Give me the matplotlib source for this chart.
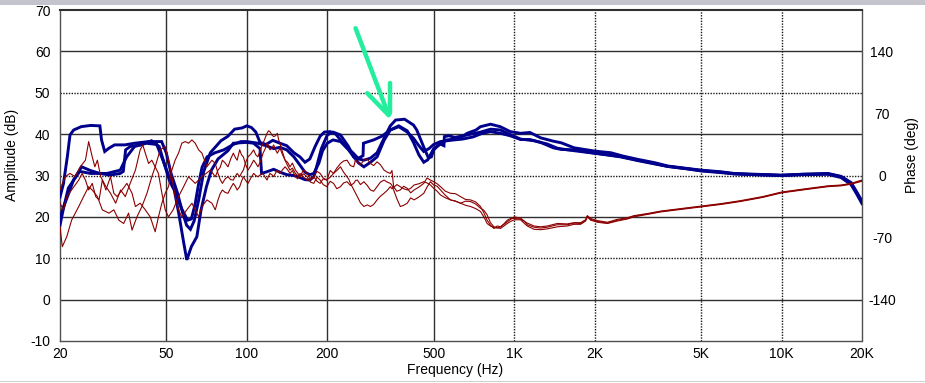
import matplotlib
matplotlib.use("Agg")
import matplotlib.pyplot as plt
from matplotlib.patches import Rectangle

plt.rcParams['font.family'] = ['Liberation Sans', 'DejaVu Sans']
plt.rcParams['font.size'] = 10
plt.rcParams['axes.unicode_minus'] = False

# ---- data ----
freq_ticks = [20, 50, 100, 200, 500, 1000, 2000, 5000, 10000, 20000]
freq_labels = ['20', '50', '100', '200', '500', '1K', '2K', '5K', '10K', '20K']
amp_ticks = [-10, 0, 10, 20, 30, 40, 50, 60, 70]
phase_ticks = [-140, -70, 0, 70, 140]

blue1_f = [20, 20.6, 21.3, 21.8, 22.5, 24, 26, 28.2, 28.6, 29.4, 30.5, 32, 35, 38, 43, 48,
           50, 52, 55, 57.5, 59.5, 61.5, 63.5, 66, 69, 73, 80, 85, 90, 96, 100, 104, 108,
           112, 118, 125, 133, 141, 150, 158, 165, 172, 180, 188, 195, 205, 215, 224, 235,
           250, 262, 274, 290, 307, 326, 344, 360, 389, 420, 432, 458, 478, 490, 500, 530,
           561, 600, 640, 667, 720, 748, 816, 887, 967, 1056, 1145, 1256, 1400, 1500, 1674,
           2000, 2300, 2550, 2900, 3350, 3750, 4450, 5000, 5930, 6640, 8000, 10000, 12000,
           14900, 16700, 18200, 19000, 20000]
blue1_db = [24.8, 28, 34.5, 39.8, 41, 41.8, 42.1, 42, 38.6, 35.8, 36.6, 37.4, 37.4, 37.8, 38.2, 38.2,
            35.4, 30.6, 25.8, 21, 18, 17, 19, 24, 31, 35.5, 38.4, 39.5, 41.2, 41.5, 42, 41.6, 40.5,
            38, 37.5, 38.5, 37.8, 37.2, 35.5, 34.5, 33.2, 34, 37, 39.5, 40.5, 40.6, 40, 38.6, 37,
            35.4, 34, 33.7, 34.2, 35.5, 39, 42, 43.4, 43.6, 42.2, 41, 37, 34.2, 34.5, 36.2, 37.8,
            38.6, 38.8, 39.4, 40.2, 41, 41.8, 42.4, 41.8, 40.6, 40.2, 40.4, 39.1, 38.3, 37.9, 36.7,
            35.9, 35.5, 34.7, 33.9, 33.1, 32.3, 31.7, 31.3, 30.9, 30.5, 30.3, 30.1, 30.3,
            30.4, 29.7, 28.1, 26.1, 23.5]

blue2_f = [20, 20.5, 21.5, 22.5, 24.1, 26, 28.2, 30.8, 33.6, 34.5, 35.2, 36.6, 40, 44, 47, 49.5,
           51.5, 53.5, 55.6, 58.1, 59.6, 62, 65, 67.4, 70.6, 73.7, 78, 85, 89, 100, 106, 112,
           113.5, 120, 126, 133, 141, 150, 158, 165, 172, 178, 183, 190, 200, 210, 224, 240,
           251, 262, 274, 290, 307, 326, 344, 370, 398, 420, 440, 459, 475, 500, 530, 546,
           548, 570, 600, 667, 750, 816, 887, 967, 1056, 1186, 1330, 1450, 1580, 1820, 2100,
           2500, 2900, 3350, 3750, 4450, 5000, 5930, 6640, 8000, 10000, 12000, 14900, 16700,
           18200, 19000, 20000]
blue2_db = [19.5, 22, 25.5, 29, 32.1, 31.2, 30.5, 30.1, 30.5, 31, 36.2, 37, 37.4, 38.4, 37, 32.1,
            28.5, 26.5, 20.9, 13.6, 9.6, 12.8, 15.2, 21.7, 27.3, 31.3, 34, 36, 37.8, 38, 37.8, 36.5,
            30.5, 31, 31.5, 30.8, 30.2, 30, 29.5, 29, 28.9, 29.7, 32.5, 36.5, 39.8, 40.5, 39.8, 37,
            34.5, 33, 32.1, 33.2, 34.5, 38.5, 41, 42, 40.8, 38, 35, 33.2, 33.8, 36.5, 37.6, 37.2,
            39.4, 39.6, 39.2, 39.8, 40.5, 41.2, 41, 39.9, 38.8, 38.4, 37.6, 36.6, 36.2, 35.7, 35.2,
            34.5, 33.6, 32.8, 32.2, 31.6, 31.1, 30.7, 30.4, 30.2, 30, 30.2, 30.3, 29.5,
            27.8, 25.8, 23.2]

blue3_f = [20, 20.6, 21.5, 23.7, 26, 30, 33.6, 35.5, 38, 42, 46, 48, 51, 54, 57, 60, 62, 64, 66,
           68, 71, 76, 82, 89, 95, 100, 110, 118, 126, 133, 141, 150, 158, 165, 172, 178, 186,
           192, 200, 210, 224, 240, 251, 262, 272, 273, 285, 298, 320, 344, 370, 398, 420, 440,
           459, 480, 500, 530, 561, 595, 640, 700, 760, 816, 887, 967, 1056, 1145, 1256, 1400,
           1500, 1674, 2000, 2500, 2900, 3350, 3750, 4450, 5000, 5930, 6640, 8000, 10000,
           12000, 14900, 16700, 18200, 19000, 20000]
blue3_db = [18, 22, 27, 31, 30.5, 30.5, 31.3, 34.5, 37, 37.8, 37.5, 34.5, 30, 26, 22, 19.2, 19.5, 23, 28,
            32, 34.5, 35.5, 36.2, 37.5, 38.2, 38.2, 37.8, 37.2, 36.5, 36.8, 36.2, 34.5, 32.5, 30.8, 30.2, 30.5, 33,
            36, 37.8, 38.6, 38.2, 36.2, 34.5, 34.2, 34.8, 37.8, 38.2, 38.6, 39.5, 41, 41.8, 40.5, 39, 37.2,
            35.8, 36.5, 37.5, 38.2, 38.4, 38.6, 38.8, 39.3, 40.2, 40.6, 40.2, 39.6, 38.7, 38.7, 38, 36.7,
            36.3, 36.2, 35.4, 34.6, 33.7, 32.9, 32.2, 31.6, 31.2, 30.8, 30.4, 30.2, 30,
            30.3, 30.5, 29.8, 28.3, 26.3, 23.8]

red1_f = [20, 20.9, 21.8, 22.8, 23.8, 24.9, 25.6, 26.4, 27, 27.6, 28.4, 29.7, 30.9, 32.3, 33.7,
          35.1, 36.6, 38.3, 39.9, 40.8, 41.7, 42.9, 44.1, 45.4, 46.7, 48.1, 49.5, 50.9, 53, 55.5,
          58, 60.5, 64.1, 67.9, 73, 76.2, 78, 81, 85, 89, 92, 94, 97, 101, 106, 110, 115, 119,
          122, 126, 130, 133, 139, 145, 152, 158, 168, 178, 188, 199, 211, 224, 237, 251, 259,
          274, 290, 307, 326, 344, 354, 375, 398, 422, 459, 486, 500, 530, 578, 630, 687, 748,
          792, 840, 889, 942, 1000, 1056, 1094, 1119, 1186, 1256, 1330, 1450, 1580, 1674, 1772,
          1850, 1878, 1932, 2048, 2232, 2432, 2652, 2808, 3148, 3534, 3965, 4446, 4990, 5930,
          7000, 8500, 10000, 12000, 14900, 16700, 18200, 20000]
red1_db = [26.5, 29.7, 30.5, 29.7, 32.1, 33.7, 38.2, 34.5, 32.1, 33.7, 29.7, 27.3, 25.7, 23.3, 26.5,
           24.9, 28.1, 31.3, 36.2, 37.4, 35.4, 32.9, 33.7, 32.1, 30.5, 25.7, 21.7, 20, 21.7, 24.9,
           27.3, 29.7, 28.1, 29.7, 31.3, 29.7, 31.3, 33.7, 32.1, 35.4, 33.7, 36.2, 34.5, 31.3, 33.7, 32.1, 35.4, 37.8,
           36.2, 37.4, 35.4, 36.6, 33.7, 32.1, 31.3, 29.7, 30.5, 29.7, 30.5, 28.9, 30.5, 32.9, 33.7, 32.1, 33.3,
           33.7, 32.9, 33.3, 31.3, 30.5, 27.3, 26.5, 26.9, 26.5, 28.1, 28.9, 28.5, 27.3, 25.7, 24.9, 24.1, 22.5,
           19.2, 17.2, 17.6, 18.8, 20, 19.7, 18.9, 18.1, 17.5, 17.3, 17.5, 18.1, 18.1, 18.5, 18.4,
           19.2, 20.2, 19.4, 18.9, 18.5, 19.2, 19.6, 20.2, 20.7, 21.3, 21.7, 22.1, 22.5, 23.1,
           23.8, 24.8, 25.9, 26.6, 27.4, 27.6, 28, 28.8]
# finer wiggles of the same trace between the points above
red1_fine_f = [79.5, 83, 87, 90.5, 95.5, 99, 103.5, 108, 112.5, 117, 120.5, 124, 128, 131.5, 136,
               142, 148, 155, 163, 173, 183, 193, 205, 217, 230, 244, 255, 266, 282, 298, 316,
               335, 349, 364, 386, 410, 440, 472, 515, 553, 603, 658, 718, 770, 815, 865, 915, 970]
red1_fine_db = [32.0, 33.0, 34.0, 34.4, 35.0, 32.6, 32.4, 33.0, 33.4, 36.4, 37.0, 36.6, 36.2, 36.0, 35.0,
                33.2, 33.0, 30.6, 31.4, 29.2, 31.0, 29.4, 31.2, 31.8, 33.5, 32.4, 33.8, 32.6, 34.0, 32.4, 32.6,
                30.8, 31.2, 26.2, 27.4, 25.8, 27.2, 29.4, 28.0, 26.2, 25.6, 24.2, 23.6, 21.0, 18.0, 17.8, 18.2, 19.4]

red2_f = [20, 20.6, 21.2, 22.1, 23.5, 24.2, 24.9, 25.6, 26.4, 27.2, 28, 28.8, 29.7, 30.9, 31.8,
          32.7, 34.1, 35.6, 37.2, 38.3, 39.9, 41.7, 43.5, 45.4, 46.7, 48.1, 49.5, 50.9, 52.4, 53.9,
          55.5, 57.1, 58.8, 60.5, 62.3, 64.1, 66, 67.9, 70.9, 74, 76.2, 78, 81, 85, 89, 92, 94,
          97, 101, 106, 110, 115, 119, 122, 126, 130, 133, 139, 145, 152, 158, 168, 178, 188,
          199, 211, 224, 237, 251, 259, 274, 290, 307, 326, 344, 354, 375, 398, 422, 459, 486,
          500, 530, 578, 630, 687, 748, 792, 840, 889, 942, 1000, 1056, 1119, 1186, 1256, 1330,
          1450, 1580, 1674, 1772, 1850, 1878, 1932, 2048, 2232, 2432, 2652, 2808, 3148, 3534,
          3965, 4446, 4990, 5930, 7000, 8500, 10000, 12000, 14900, 16700, 18200, 20000]
red2_db = [23.3, 21.7, 24.9, 26.5, 28.9, 30.5, 28.9, 26.5, 28.1, 24.9, 24.1, 28.9, 26.5, 29.7, 25.7,
           24.9, 26.5, 28.1, 25.7, 22.5, 23.3, 21.7, 20, 16.4, 20, 23.3, 25.7, 27.3, 31.3, 33.7,
           35.4, 37.8, 38.2, 37.8, 38.6, 37.8, 36.2, 35.4, 32.1, 33.7, 32.9, 30.5, 28.1, 29.7, 28.9, 30.5, 29.7,
           31.3, 34.5, 36.2, 34.5, 37.8, 40.2, 40.6, 39.4, 40.2, 37.8, 33.7, 31.3, 30.5, 29.7, 29.7, 28.1, 28.9,
           27.3, 28.1, 27.3, 28.5, 28.1, 28.9, 28.5, 26.5, 27.3, 28.9, 28.1, 26.5, 22.5, 23.3, 24.1, 25.7, 28.5,
           27.7, 26.5, 24.1, 23.3, 23.7, 22.1, 20.5, 17.6, 17.2, 18.4, 19.3, 19.3, 17.8, 17.0, 16.9, 17.1,
           17.6, 17.8, 18.2, 18.2, 19.0, 20.0, 19.2, 18.7, 18.4, 19.0, 19.5, 20.0, 20.6, 21.2,
           21.6, 22.0, 22.4, 23.0, 23.7, 24.7, 25.8, 26.5, 27.3, 27.5, 27.9, 28.6]
red2_fine_f = red1_fine_f
red2_fine_db = [29.0, 29.2, 29.0, 29.8, 30.6, 33.2, 35.2, 35.0, 36.4, 39.0, 40.8, 39.8, 39.6, 38.6, 35.6,
                32.4, 31.8, 30.0, 30.4, 28.4, 29.6, 27.8, 28.6, 26.8, 28.2, 27.6, 28.8, 27.8, 27.6, 26.2, 28.4,
                28.4, 27.6, 24.4, 22.8, 24.6, 24.8, 27.2, 27.4, 25.2, 23.8, 23.8, 23.1, 21.6, 18.6, 17.4, 17.8, 18.9]

red3_f = [20, 20.4, 21.2, 22.1, 23.5, 24.5, 25.6, 26.4, 27.6, 28.8, 30.5, 31.8, 33.2, 34.6, 36.1,
          37.2, 38.8, 40.5, 42.3, 44.1, 45.4, 47.4, 49.5, 50.9, 52.4, 53.9, 55.5, 57.1, 59.6, 62.3,
          64.1, 66, 67.9, 70.9, 74, 76.2, 78, 81, 85, 89, 92, 94, 97, 101, 106, 110, 115, 119,
          122, 126, 130, 133, 139, 145, 152, 158, 168, 178, 188, 199, 211, 224, 237, 244, 259,
          274, 290, 307, 326, 344, 354, 375, 398, 422, 459, 486, 500, 530, 578, 630, 687, 748,
          792, 840, 889, 942, 1000, 1056, 1119, 1186, 1256, 1330, 1450, 1580, 1674, 1772, 1850,
          1878, 1932, 2048, 2232, 2432, 2652, 2808, 3148, 3534, 3965, 4446, 4990, 5930, 7000,
          8500, 10000, 12000, 14900, 16700, 18200, 20000]
red3_db = [17.6, 12.8, 15.2, 19.2, 22.5, 24.9, 27.3, 26.5, 24.9, 21.7, 20.9, 21.7, 19.2, 18.4, 20.9,
           16.8, 20, 22.5, 25.7, 29.7, 32.1, 36.2, 37, 33.7, 29.7, 24.9, 21.7, 20, 21.7, 23.3,
           21.7, 20, 22.5, 24.1, 23.3, 21.7, 24.1, 26.5, 25.7, 28.1, 26.5, 27.3, 29.7, 28.1, 30.5, 29.7, 30.5, 28.9,
           30.5, 29.7, 31.3, 30.5, 32.1, 30.5, 29.7, 30.5, 28.9, 29.7, 28.1, 28.9, 30.5, 32.1, 29.7, 28.1, 24.9,
           22.5, 22.5, 24.1, 25.7, 27.3, 27.1, 27.3, 26.5, 27.7, 28.5, 27.7, 26.9, 25.3, 24.1, 23.3, 22.5, 21.3,
           18.4, 17.4, 17.6, 19.2, 19.6, 19.5, 18.5, 17.8, 17.6, 17.8, 18.4, 18.3, 18.6, 18.6, 19.3,
           20.3, 19.6, 19.1, 18.7, 19.4, 19.8, 20.3, 20.8, 21.4, 21.8, 22.2, 22.6, 23.2, 23.9,
           24.9, 26.0, 26.7, 27.5, 27.7, 28.1, 28.9]
red3_fine_f = [79.5, 83, 87, 90.5, 95.5, 99, 103.5, 108, 112.5, 117, 120.5, 124, 128, 131.5, 136,
               142, 148, 155, 163, 173, 183, 193, 205, 217, 230, 241, 251, 266, 282, 298, 316,
               335, 349, 364, 386, 410, 440, 472, 515, 553, 603, 658, 718, 770, 815, 865, 915, 970]
red3_fine_db = [25.6, 25.9, 27.0, 27.4, 28.6, 28.8, 29.4, 30.0, 30.2, 29.6, 29.8, 30.2, 30.6, 30.8, 31.4,
                31.4, 31.2, 29.2, 29.6, 29.0, 28.6, 29.2, 29.6, 31.2, 30.8, 29.0, 26.6, 23.4, 22.9, 23.0, 25.0,
                26.4, 26.8, 27.8, 26.8, 26.9, 28.0, 28.2, 26.2, 24.6, 23.8, 22.8, 22.0, 20.0, 17.8, 17.3, 18.3, 19.6]

# hand-drawn green arrow (Hz, dB)
arrow_shaft_f = [255, 339]
arrow_shaft_db = [65.6, 44.6]
arrow_left_f = [282, 339]
arrow_left_db = [49.9, 44.6]
arrow_right_f = [344, 344]
arrow_right_db = [52.4, 45.2]


def merged(f, db, ff, fdb):
    pts = sorted(zip(list(f) + list(ff), list(db) + list(fdb)))
    return [p[0] for p in pts], [p[1] for p in pts]


# ---- figure ----
W, H = 925, 383
fig = plt.figure(figsize=(W / 100, H / 100), dpi=100, facecolor='white')
ax = fig.add_axes([60 / W, (H - 341) / H, 802 / W, 331 / H])

navy = '#00008c'
maroon = '#8c0000'

for f, db in [(blue1_f, blue1_db), (blue2_f, blue2_db), (blue3_f, blue3_db)]:
    ax.plot(f, db, color=navy, lw=2.1, solid_joinstyle='miter', zorder=3)

reds = [merged(red1_f, red1_db, red1_fine_f, red1_fine_db),
        merged(red2_f, red2_db, red2_fine_f, red2_fine_db),
        merged(red3_f, red3_db, red3_fine_f, red3_fine_db)]
for f, db in reds:
    ax.plot(f, db, color=maroon, lw=0.8, zorder=4)

green = '#22ee9e'
for f, db in [(arrow_shaft_f, arrow_shaft_db), (arrow_left_f, arrow_left_db),
              (arrow_right_f, arrow_right_db)]:
    ax.plot(f, db, color=green, lw=3.2, solid_capstyle='round', zorder=6)

ax.set_xscale('log')
ax.set_xlim(20, 20000)
ax.set_ylim(-10, 70)
ax.set_xticks(freq_ticks)
ax.set_xticklabels(freq_labels)
ax.minorticks_off()
ax.set_yticks(amp_ticks)
ax.tick_params(axis='both', length=0, labelsize=10, colors='black')
ax.tick_params(axis='x', pad=4)
ax.tick_params(axis='y', pad=7)

# grid, some lines solid and some dotted as in the reference
grid_col = '#303030'
for v in [0, 20, 40, 60]:
    ax.axhline(v, color=grid_col, lw=1.0, zorder=1)
for v in [10, 30, 50]:
    ax.axhline(v, color='#181818', lw=1.0, ls=(0, (1, 1)), zorder=1)
for v in [50, 100, 200, 500]:
    ax.axvline(v, color=grid_col, lw=1.0, zorder=1)
for v in [1000, 2000, 5000, 10000]:
    ax.axvline(v, color='#181818', lw=1.0, ls=(0, (1, 1)), zorder=1)

for side in ['left', 'right', 'bottom']:
    ax.spines[side].set_color('#505050')
    ax.spines[side].set_linestyle((0, (1, 1)))
    ax.spines[side].set_linewidth(1.0)
ax.spines['top'].set_color('#303030')
ax.spines['top'].set_linewidth(1.5)

# phase axis on the right
ax2 = ax.twinx()
ax2.set_ylim(-186.67, 186.67)
ax2.set_yticks(phase_ticks)
ax2.tick_params(axis='y', length=0, labelsize=10, pad=14.4)
for lab in ax2.get_yticklabels():
    lab.set_horizontalalignment('center')
for s in ax2.spines.values():
    s.set_visible(False)

fig.text(12 / W, 1 - 155 / H, 'Amplitude (dB)', rotation=90, ha='center', va='center', fontsize=10)
fig.text(912 / W, 1 - 155 / H, 'Phase (deg)', rotation=90, ha='center', va='center', fontsize=10)
fig.text(455 / W, 1 - 370 / H, 'Frequency (Hz)', ha='center', va='center', fontsize=10)

# window frame remnants
fig.patches.append(Rectangle((0, 1 - 5 / H), 1, 5 / H, transform=fig.transFigure,
                             facecolor='#c4c4cc', edgecolor='none'))
fig.patches.append(Rectangle((0, 1 / H), 1, 1 / H, transform=fig.transFigure,
                             facecolor='#d0d0d0', edgecolor='none'))

fig.savefig('out.png', dpi=100, facecolor='white')
